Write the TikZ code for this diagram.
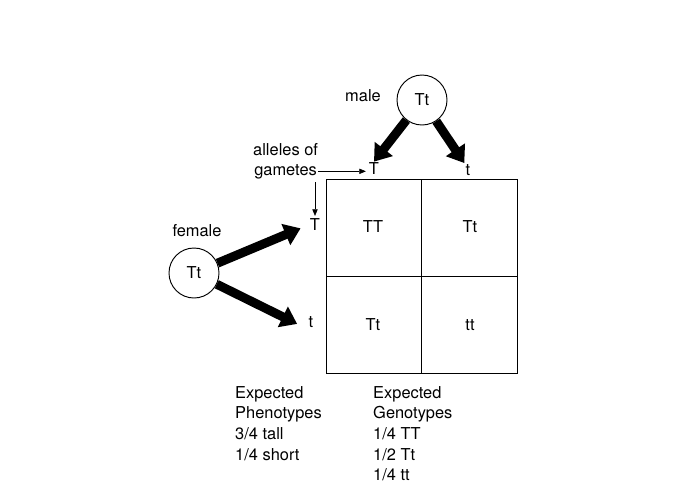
\documentclass[tikz,border=0pt]{standalone}
\usepackage{fontspec}
\setmainfont{TeX Gyre Heros}
\usetikzlibrary{arrows.meta,positioning}

\begin{document}
\begin{tikzpicture}[x=0.03cm,y=-0.03cm, font=\fontsize{14}{17.6}\selectfont,
    parent/.style={draw, circle, line width=0.8pt, minimum size=1.5cm, inner sep=0pt},
    allele/.style={inner sep=1pt},
    gamete/.style={-{Triangle[length=0.48cm,width=0.66cm]}, line width=0.27cm},
    pointer/.style={-{Triangle[length=2mm,width=1.6mm]}, line width=0.6pt},
    gridline/.style={line width=0.8pt}]
  \useasboundingbox (0,0) rectangle (700,496);

  % Parents
  \node[parent] (male) at (422,100) {Tt};
  \node[parent] (female) at (194,273) {Tt};
  \node (malelabel) at (363,96) {male};
  \node (femalelabel) at (197,231) {female};

  % Alleles of the gametes
  \node[allele] (Tm) at (374,169) {T};
  \node[allele] (tm) at (468,170) {t};
  \node[allele] (Tf) at (315,225) {T};
  \node[allele] (tf) at (311,322) {t};

  \draw[gamete] (male) -- (Tm.north);
  \draw[gamete] (male) -- (tm.north west);
  \draw[gamete, shorten >=2.6mm] (female) -- (Tf.west);
  \draw[gamete, shorten >=3.4mm] (female) -- (tf.south west);

  % Label with its two pointers
  \node[anchor=base west, inner sep=0pt] (alleles) at (253,155) {alleles of};
  \node[anchor=base west, inner sep=1pt] (gametes) at (253,175) {gametes};
  \coordinate (stub) at (315,182);
  \draw[pointer, shorten >=0.5mm] (gametes.east) -- (gametes.east -| Tm.west);
  \draw[pointer, shorten >=0.5mm] (stub) -- (Tf.north);

  % Punnett square
  \draw[gridline] (326,179) rectangle (517,373);
  \draw[gridline] (421,179) -- (421,373);
  \draw[gridline] (326,276) -- (517,276);
  \foreach \x/\y/\geno [count=\i] in {373/227/TT, 470/227/Tt, 373/325/Tt, 470/325/tt}
    \node (cell\i) at (\x,\y) {\geno};

  % Expected ratios
  \node[anchor=north west, align=left, inner sep=0pt] (pheno) at (235,386)
    {Expected\\Phenotypes\\3/4 tall\\1/4 short};
  \node[anchor=north west, align=left, inner sep=0pt] (geno) at (373,386)
    {Expected\\Genotypes\\1/4 TT\\1/2 Tt\\1/4 tt};
\end{tikzpicture}
\end{document}
